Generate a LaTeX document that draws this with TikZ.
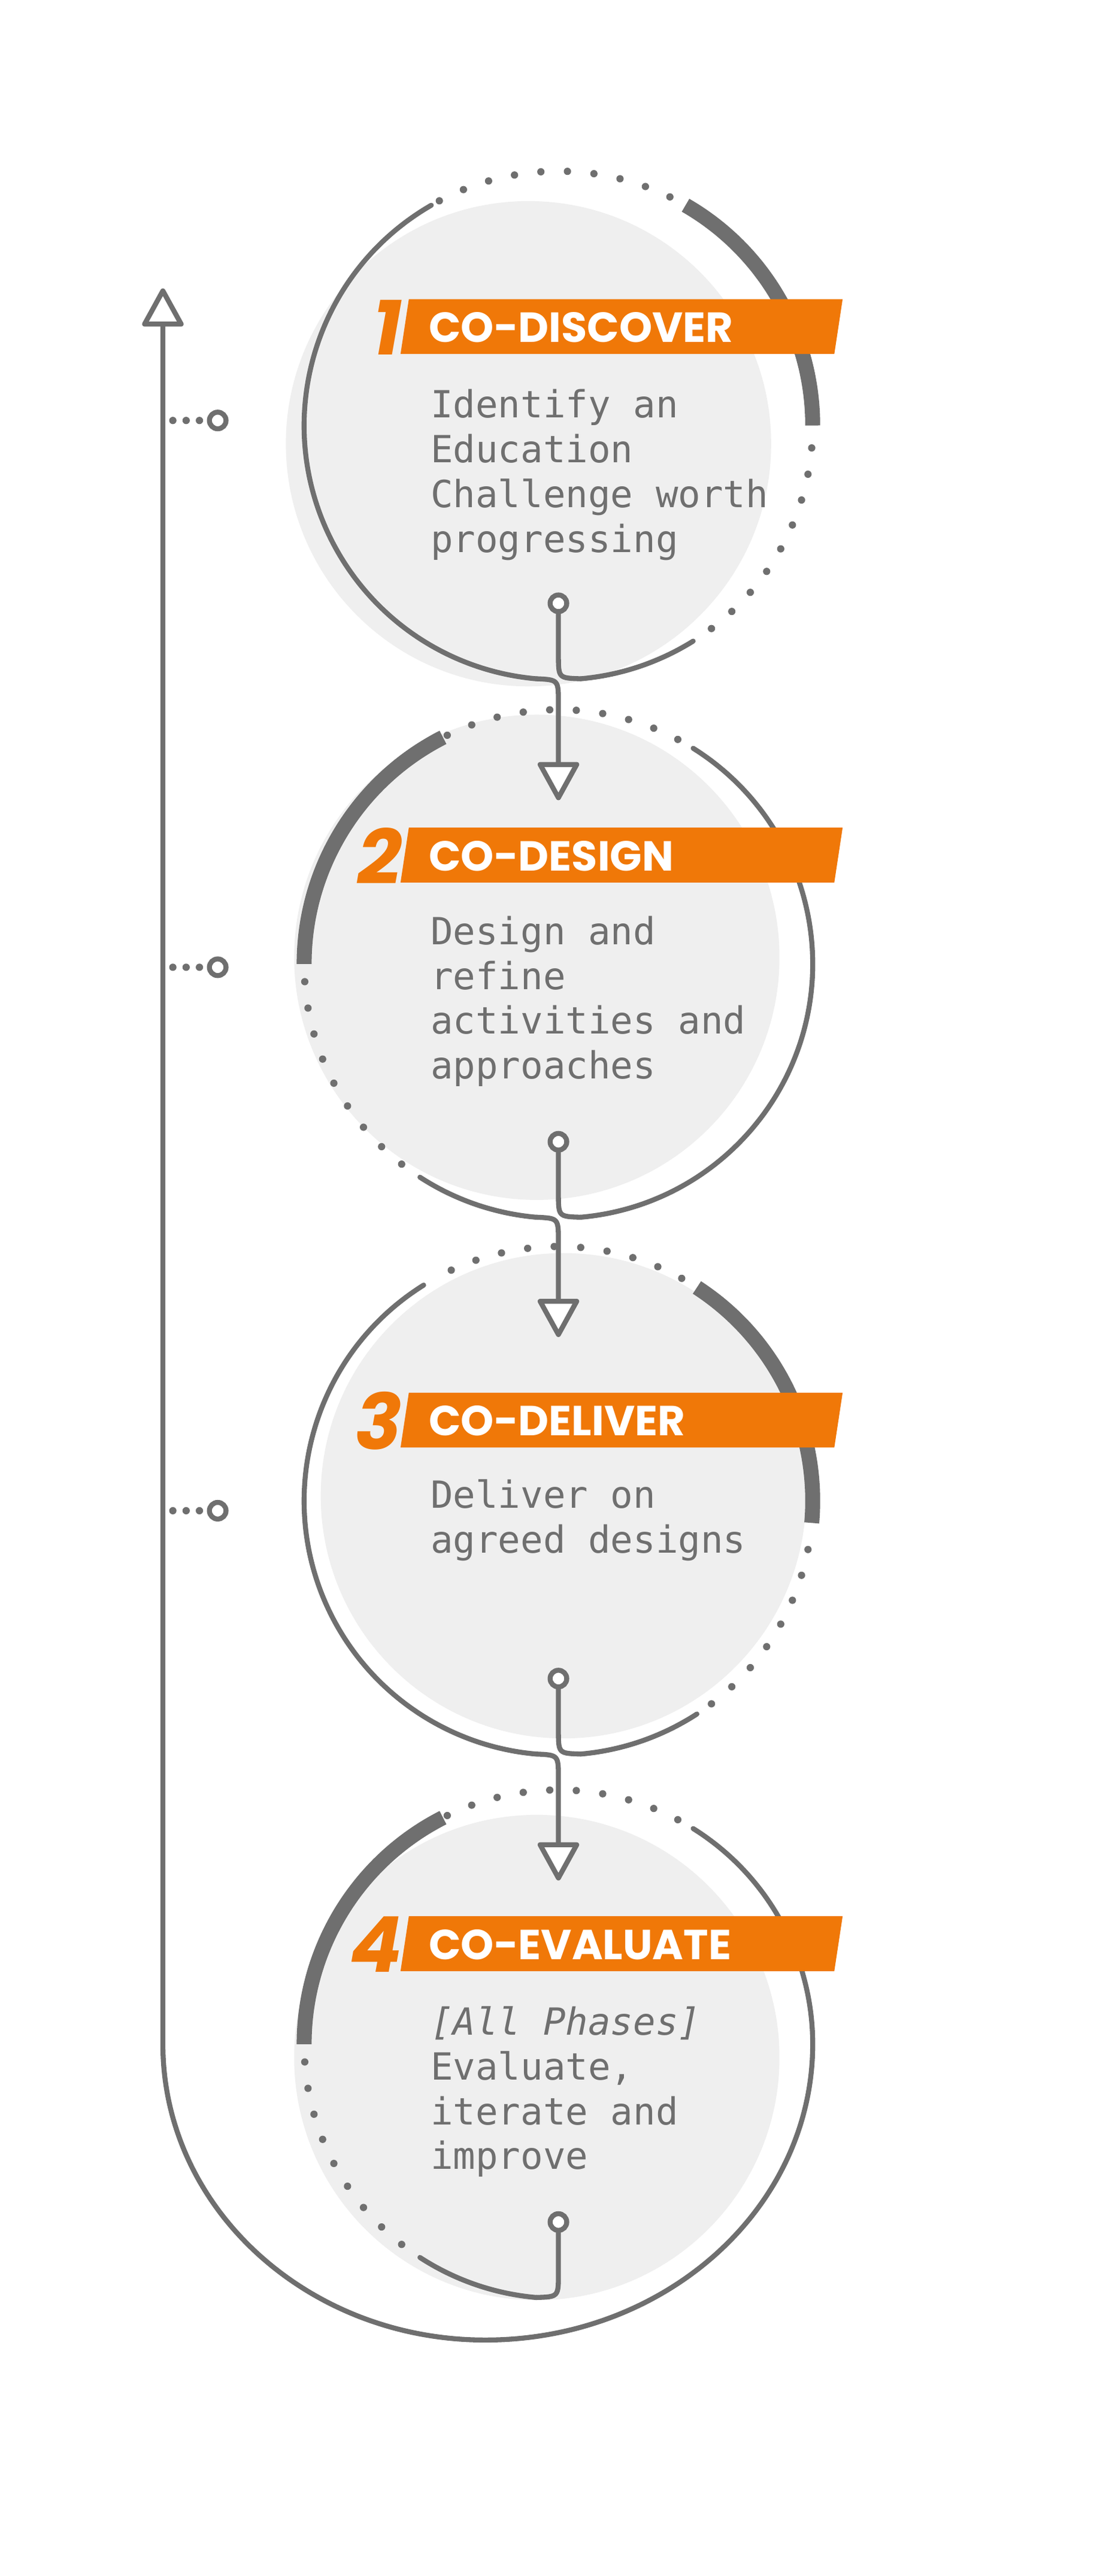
\documentclass[tikz,border=0pt]{standalone}
\usepackage{fontspec}
\usetikzlibrary{calc}
\newfontfamily\titlefont{Poppins}
\newfontfamily\bodyfont{DejaVu Sans Mono}
\definecolor{ink}{HTML}{6F6F6F}
\definecolor{disk}{HTML}{EFEFEF}
\definecolor{orng}{HTML}{F07808}
\newcommand\rarc[4]{\draw[#4] ($(336,#1)+(#2:153)$) arc[start angle=#2,end angle=#3,radius=153];}
\begin{document}
\begin{tikzpicture}[x=0.5mm,y=-0.5mm,
  thin/.style={draw=ink,line width=1.5mm,line cap=round},
  thick/.style={draw=ink,line width=4.5mm,line cap=butt},
  dots/.style={draw=ink,line width=2.2mm,line cap=round,dash pattern=on 0pt off 8mm},
  knob/.style={circle,draw=ink,fill=white,line width=1.5mm,minimum size=5mm,inner sep=0pt},
  tap/.style={circle,fill=ink,minimum size=2.2mm,inner sep=0pt},
  banner/.style={fill=orng},
  title/.style={anchor=west,text=white,font=\titlefont\bfseries\fontsize{36}{40}\selectfont,inner sep=0pt},
  digit/.style={anchor=east,text=orng,font=\titlefont\bfseries\itshape\fontsize{66}{66}\selectfont,inner sep=0pt},
  body/.style={anchor=north west,align=left,text=ink,inner sep=0pt,font=\bodyfont\fontsize{32}{38.4}\selectfont}]
\useasboundingbox[fill=white] (0,0) rectangle (660,1550);
% disks
\fill[disk] (318,267) circle[radius=146];
\fill[disk] (323,576) circle[radius=146];
\fill[disk] (339,900) circle[radius=146];
\fill[disk] (323,1238) circle[radius=146];
% circle 1 (cy=256)
\rarc{256}{240}{95}{thin}
\rarc{256}{85}{58}{thin}
\rarc{256}{53}{3}{dots}
\rarc{256}{0}{-60}{thick}
\rarc{256}{-64}{-118}{dots}
% circle 2 (cy=580)
\rarc{580}{243}{180}{thick}
\rarc{580}{176}{127}{dots}
\rarc{580}{123}{95}{thin}
\rarc{580}{85}{-58}{thin}
\rarc{580}{-62}{-116}{dots}
% circle 3 (cy=903)
\rarc{903}{238}{95}{thin}
\rarc{903}{85}{57}{thin}
\rarc{903}{53}{8}{dots}
\rarc{903}{5}{-57}{thick}
\rarc{903}{-61}{-115}{dots}
% circle 4 (cy=1230)
\rarc{1230}{243}{180}{thick}
\rarc{1230}{176}{127}{dots}
\rarc{1230}{123}{95}{thin}
\rarc{1230}{-62}{-116}{dots}
% knobs
\node[knob] (k1) at (336,363) {};
\node[knob] (k2) at (336,687) {};
\node[knob] (k3) at (336,1010) {};
\node[knob] (k4) at (336,1337) {};
\draw[thin] (k1.south) -- (336,394) .. controls (336,408) .. (349.3,408.4);
\draw[thin] (k2.south) -- (336,718) .. controls (336,732) .. (349.3,732.4);
\draw[thin] (k3.south) -- (336,1041) .. controls (336,1055) .. (349.3,1055.4);
\draw[thin] (k4.south) -- (336,1368) .. controls (336,1382) .. (322.7,1382.4);
% arrows down
\coordinate (a2) at (336,460); \coordinate (a3) at (336,783); \coordinate (a4) at (336,1110);
\draw[thin] (322.7,408.4) .. controls (336,409) .. (336,423) -- (a2);
\draw[thin] (322.7,732.4) .. controls (336,733) .. (336,747) -- (a3);
\draw[thin] (322.7,1055.4) .. controls (336,1056) .. (336,1070) -- (a4);
\foreach \c in {a2,a3,a4}{
  \draw[thin,line join=round,fill=white] ($(\c)+(-11,0)$) -- ($(\c)+(11,0)$) -- ($(\c)+(0,20)$) -- cycle;}
% outer loop
\coordinate (up) at (98,195);
\draw[thin] ($(336,1230)+(-58:153)$) arc[start angle=-58,end angle=0,radius=153]
  arc[start angle=0,end angle=90,x radius=197,y radius=178]
  arc[start angle=90,end angle=180,x radius=194,y radius=178] -- (up);
\draw[thin,line join=round,fill=white] (87,195) -- (109,195) -- (98,175) -- cycle;
% taps
\foreach \y in {253,582,909}{
  \node[tap] at (104,\y) {}; \node[tap] at (112,\y) {}; \node[tap] at (120,\y) {};
  \node[knob] at (131,\y) {};}
% banners
\foreach \t in {180,498,838,1153}{
  \fill[banner] (246,\t) -- (507,\t) -- (502,\t+33) -- (241,\t+33) -- cycle;}
\node[digit] (d1) at (242,197) {1};
\node[digit] (d2) at (242,515) {2};
\node[digit] (d3) at (242,855) {3};
\node[digit] (d4) at (242,1170) {4};
\node[title] (t1) at (258,197) {CO-DISCOVER};
\node[title] (t2) at (258,515) {CO-DESIGN};
\node[title] (t3) at (258,855) {CO-DELIVER};
\node[title] (t4) at (258,1170) {CO-EVALUATE};
% body
\node[body] (b1) at (259,234) {Identify an\\Education\\Challenge worth\\progressing};
\node[body] (b2) at (259,551) {Design and\\refine\\activities and\\approaches};
\node[body] (b3) at (259,890) {Deliver on\\agreed designs};
\node[body] (b4) at (259,1207) {\itshape [All Phases]\\Evaluate,\\iterate and\\improve};
\end{tikzpicture}
\end{document}
